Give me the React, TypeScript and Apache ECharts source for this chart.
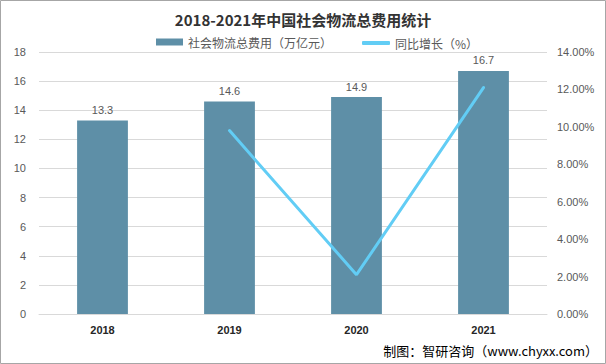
import React, { useEffect, useRef } from "react";
import * as echarts from "echarts";

const years = ["2018", "2019", "2020", "2021"];
const costValues = [13.3, 14.6, 14.9, 16.7];
const growthValues: (number | null)[] = [null, 9.8, 2.1, 12.1];
const leftTicks = { min: 0, max: 18, interval: 2 };
const rightTicks = { min: 0, max: 14, interval: 2 };
const barName = "社会物流总费用（万亿元）";
const lineName = "同比增长（%）";

export default function App() {
  const ref = useRef<HTMLDivElement>(null);
  useEffect(() => {
    if (!ref.current) return;
    const chart = echarts.init(ref.current, null, { renderer: "svg" });
    const legendText = { fontSize: 12, color: "#595959", fontFamily: "Noto Sans CJK SC", lineHeight: 14 };
    chart.setOption({
      animation: false,
      backgroundColor: "#ffffff",
      title: {
        text: "2018-2021年中国社会物流总费用统计",
        left: "center",
        top: 7,
        textStyle: { fontSize: 15, fontWeight: "bold", color: "#333333", fontFamily: "Noto Sans CJK SC" },
      },
      legend: [
        {
          top: 35,
          left: 156,
          padding: 0,
          itemWidth: 27,
          itemHeight: 7,
          itemGap: 4,
          textStyle: legendText,
          data: [{ name: barName, icon: "rect" }],
        },
        {
          top: 36,
          left: 362,
          padding: 0,
          itemWidth: 28,
          itemHeight: 4,
          textStyle: legendText,
          data: [{ name: lineName, icon: "roundRect" }],
        },
      ],
      grid: { left: 39, right: 59, top: 52, bottom: 50, containLabel: false },
      xAxis: {
        type: "category",
        data: years,
        axisLine: { show: true, lineStyle: { color: "#d9d9d9" } },
        axisTick: { show: false },
        axisLabel: { fontSize: 11, fontWeight: "bold", color: "#262626", margin: 10, fontFamily: "Liberation Sans" },
      },
      yAxis: [
        {
          type: "value",
          ...leftTicks,
          axisLine: { show: false },
          axisTick: { show: false },
          splitLine: { lineStyle: { color: "#d9d9d9" } },
          axisLabel: { fontSize: 11, color: "#595959", margin: 13, fontFamily: "Liberation Sans" },
        },
        {
          type: "value",
          ...rightTicks,
          axisLine: { show: false },
          axisTick: { show: false },
          splitLine: { show: false },
          axisLabel: {
            fontSize: 11,
            color: "#595959",
            margin: 10,
            fontFamily: "Liberation Sans",
            formatter: (v: number) => v.toFixed(2) + "%",
          },
        },
      ],
      series: [
        {
          name: barName,
          type: "bar",
          data: costValues,
          barWidth: "40%",
          itemStyle: { color: "#5E8FA7" },
          label: { show: true, position: "top", fontSize: 11, color: "#595959", fontFamily: "Liberation Sans", distance: 5 },
        },
        {
          name: lineName,
          type: "line",
          yAxisIndex: 1,
          data: growthValues,
          symbol: "none",
          lineStyle: { color: "#62CDF5", width: 3, cap: "round" },
          itemStyle: { color: "#62CDF5" },
        },
      ],
      graphic: [
        {
          type: "rect",
          shape: { x: 0.5, y: 0.5, width: 605, height: 363 },
          style: { fill: "none", stroke: "#a6a6a6", lineWidth: 1 },
          silent: true,
        },
        {
          type: "text",
          right: 8,
          top: 344,
          style: { text: "制图：智研咨询（www.chyxx.com）", fontSize: 13, fill: "#000000", fontFamily: "Noto Sans CJK SC" },
        },
      ],
    });
    return () => chart.dispose();
  }, []);
  return (
    <div
      ref={ref}
      style={{ position: "fixed", left: 0, top: 0, width: 606, height: 364 }}
    />
  );
}
